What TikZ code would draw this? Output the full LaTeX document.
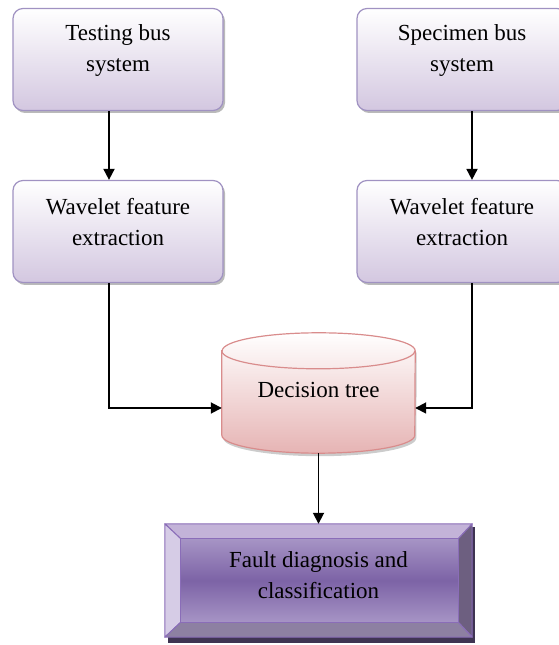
\documentclass[tikz,border=0pt]{standalone}
\usepackage{fontspec}
\setmainfont{Liberation Serif}
\usepackage{xcolor}
\usetikzlibrary{calc,arrows.meta,positioning,shadows}

\definecolor{boxline}{HTML}{A092C2}
\definecolor{boxbottom}{HTML}{D3C7E0}
\definecolor{cylline}{HTML}{D98C8C}
\definecolor{cylbottom}{HTML}{E6B4B4}
\definecolor{bevtop}{HTML}{C3B3D8}
\definecolor{bevleft}{HTML}{D6CCE6}
\definecolor{bevright}{HTML}{6D5F80}
\definecolor{bevbottom}{HTML}{8D80A2}
\definecolor{bevin}{HTML}{7D63A6}
\definecolor{bevinlight}{HTML}{A694C5}
\definecolor{bevline}{HTML}{8A6DB8}
\definecolor{bevshadow}{HTML}{3F3452}

\begin{document}
\begin{tikzpicture}[x=1pt, y=1pt, >={Triangle[length=11pt,width=11pt]}, line/.style={draw=black, line width=1.8pt}, every node/.style={font=\fontsize{23}{31}\selectfont, align=center}]
    % Define styles for boxes, drum and labels
    \tikzstyle{block} = [draw=boxline, line width=1.2pt, rectangle, rounded corners=10pt, minimum width=210pt, minimum height=102pt, top color=white, bottom color=boxbottom, drop shadow={shadow xshift=2pt, shadow yshift=-2.5pt, fill=black!45, opacity=0.6}]
    \tikzstyle{drum} = [draw=cylline, line width=1.2pt, top color=white, bottom color=cylbottom, drop shadow={shadow xshift=1.5pt, shadow yshift=-3pt, fill=black!40, opacity=0.5}]
    \tikzstyle{face} = [draw=bevline, line width=1pt, line join=round]
    \tikzstyle{label} = [inner sep=0pt]

    \useasboundingbox (0,0) rectangle (559,645);

    % Nodes placement
    \node [block] (testing) at (118,585.5) {};
    \node [block, right of=testing, node distance=344pt] (specimen) {};
    \node [block, below of=testing, node distance=172pt] (waveleft) {};
    \node [block, below of=specimen, node distance=172pt] (waveright) {};
    \node [minimum width=193pt, minimum height=84pt, inner sep=0pt] (tree) at (318.5,252) {};
    \node [minimum width=307pt, minimum height=113pt, inner sep=0pt] (fault) at (318.5,64.5) {};

    \node [label] (testingtext) at ([yshift=9pt]testing.center) {Testing bus\\system};
    \node [label] (specimentext) at ([yshift=9pt]specimen.center) {Specimen bus\\system};
    \node [label] (wavelefttext) at ([yshift=9pt]waveleft.center) {Wavelet feature\\extraction};
    \node [label] (waverighttext) at ([yshift=9pt]waveright.center) {Wavelet feature\\extraction};

    % Decision tree drum
    \draw [drum] (tree.north west) -- (tree.south west) arc[start angle=180, end angle=360, x radius=96.5pt, y radius=18pt] -- (tree.north east) arc[start angle=0, end angle=180, x radius=96.5pt, y radius=18pt] -- cycle;
    \draw [draw=cylline, line width=1.2pt] (tree.north west) arc[start angle=180, end angle=360, x radius=96.5pt, y radius=18pt];
    \node [label] (treetext) at ([yshift=3pt]tree.center) {Decision tree};

    % Bevelled result box
    \coordinate (fin-nw) at ([shift={(16pt,-15pt)}]fault.north west);
    \coordinate (fin-ne) at ([shift={(-14pt,-15pt)}]fault.north east);
    \coordinate (fin-sw) at ([shift={(16pt,15pt)}]fault.south west);
    \coordinate (fin-se) at ([shift={(-14pt,15pt)}]fault.south east);
    \fill [bevshadow] ([shift={(3pt,-6pt)}]fault.south west) rectangle ([shift={(2.5pt,-3pt)}]fault.north east);
    \draw [face, fill=bevtop] (fault.north west) -- (fault.north east) -- (fin-ne) -- (fin-nw) -- cycle;
    \draw [face, fill=bevleft] (fault.north west) -- (fin-nw) -- (fin-sw) -- (fault.south west) -- cycle;
    \draw [face, fill=bevright] (fault.north east) -- (fault.south east) -- (fin-se) -- (fin-ne) -- cycle;
    \draw [face, fill=bevbottom] (fault.south west) -- (fin-sw) -- (fin-se) -- (fault.south east) -- cycle;
    \draw [face, top color=bevinlight, bottom color=bevinlight, middle color=bevin] (fin-sw) rectangle (fin-ne);
    \node [label] (faulttext) at ([yshift=5.5pt]fault.center) {Fault diagnosis and\\classification};

    % Draw edges
    \coordinate (testingdown) at ([xshift=-9pt]testing.south);
    \coordinate (waveleftup) at ([xshift=-9pt]waveleft.north);
    \coordinate (waveleftdown) at ([xshift=-9pt]waveleft.south);
    \coordinate (specimendown) at ([xshift=10pt]specimen.south);
    \coordinate (waverightup) at ([xshift=10pt]waveright.north);
    \coordinate (waverightdown) at ([xshift=10pt]waveright.south);
    \coordinate (treeleft) at ([yshift=-15pt]tree.west);
    \coordinate (treeright) at ([yshift=-15pt]tree.east);
    \coordinate (treedown) at ([yshift=-18pt]tree.south);

    \draw [line,->] (testingdown) -- (waveleftup);
    \draw [line,->] (specimendown) -- (waverightup);
    \draw [line,->] (waveleftdown) |- (treeleft);
    \draw [line,->] (waverightdown) |- (treeright);
    \draw [line,->] (treedown) -- (fault.north);
\end{tikzpicture}
\end{document}
